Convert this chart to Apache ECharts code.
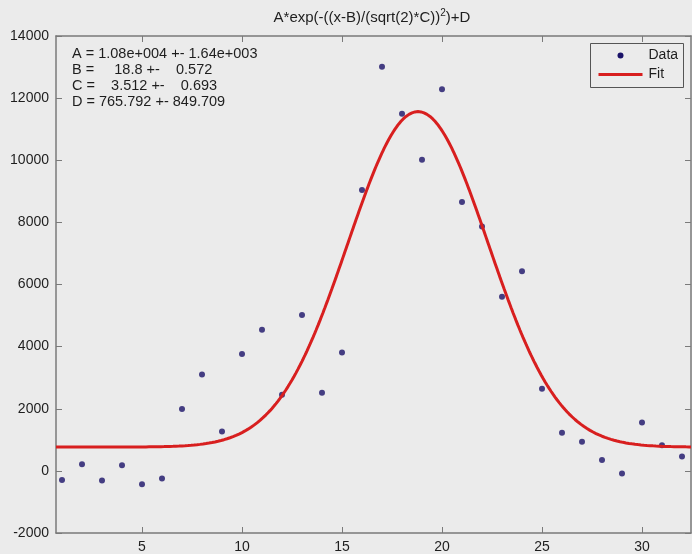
<!DOCTYPE html>
<html>
<head>
<meta charset="utf-8">
<script src="https://cdn.jsdelivr.net/npm/echarts@6/dist/echarts.min.js"></script>
<style>
  html, body { margin: 0; padding: 0; background: #ebebeb; }
  #chart { width: 692px; height: 554px; }
</style>
</head>
<body>
<div id="chart"></div>
<script>
// Measured samples
const xValues = [1, 2, 3, 4, 5, 6, 7, 8, 9, 10, 11, 12, 13, 14, 15, 16,
                 17, 18, 19, 20, 21, 22, 23, 24, 25, 26, 27, 28, 29, 30, 31, 32];
const yValues = [-290, 212, -311, 180, -430, -247, 1990, 3101, 1271, 3766, 4546, 2449,
                 5018, 2514, 3807, 9040, 13011, 11493, 10016, 12283, 8655, 7865, 5605, 6430,
                 2642, 1230, 941, 353, -87, 1560, 822, 459];

// Gaussian fit parameters A, B, C, D and their printed summary
const fitParams = [10800, 18.8, 3.512, 765.792];
const fitLines = [
  'A = 1.08e+004 +- 1.64e+003',
  'B =     18.8 +-    0.572',
  'C =    3.512 +-    0.693',
  'D = 765.792 +- 849.709'
];

// Axis ticks
const xTicks = [5, 10, 15, 20, 25, 30];
const yTicks = [-2000, 0, 2000, 4000, 6000, 8000, 10000, 12000, 14000];
const xRange = [0.7, 32.45];

// Fit curve evaluated from the fitted parameters: A*exp(-((x-B)/(sqrt(2)*C))^2)+D
function gauss(x) {
  const [A, B, C, D] = fitParams;
  const t = (x - B) / (Math.sqrt(2) * C);
  return A * Math.exp(-t * t) + D;
}
const fitCurve = [];
for (let i = 0; i <= 635; i++) {
  const x = xRange[0] + i * 0.05;
  if (x > xRange[1]) break;
  fitCurve.push([x, gauss(x)]);
}

const FONT = '"Liberation Sans", Arial, sans-serif';
const axisColor = '#7a7a7a';
const textColor = '#1e1e1e';
const dotColor = '#1a1268';
const fitColor = '#d81f1f';

const chart = echarts.init(document.getElementById('chart'), null, { renderer: 'canvas' });

const baseX = {
  type: 'value', min: xRange[0], max: xRange[1],
  axisLine: { show: true, onZero: false, lineStyle: { color: axisColor, width: 1.5 } },
  axisTick: { show: true, inside: true, length: 6, customValues: xTicks, lineStyle: { color: axisColor } },
  splitLine: { show: false }
};
const baseY = {
  type: 'value', min: yTicks[0], max: yTicks[yTicks.length - 1], interval: 2000,
  axisLine: { show: true, onZero: false, lineStyle: { color: axisColor, width: 1.5 } },
  axisTick: { show: true, inside: true, length: 6, lineStyle: { color: axisColor } },
  splitLine: { show: false }
};

chart.setOption({
  backgroundColor: '#ebebeb',
  animation: false,
  grid: { left: 56, top: 36, right: 1, bottom: 19, containLabel: false },
  xAxis: [
    Object.assign({}, baseX, {
      position: 'bottom',
      axisLabel: { show: true, customValues: xTicks, margin: 7, color: textColor, fontSize: 14, fontFamily: FONT }
    }),
    Object.assign({}, baseX, { position: 'top', axisLabel: { show: false } })
  ],
  yAxis: [
    Object.assign({}, baseY, {
      position: 'left',
      axisLabel: { show: true, margin: 7, color: textColor, fontSize: 14, fontFamily: FONT,
                   formatter: v => String(v) }
    }),
    Object.assign({}, baseY, { position: 'right', axisLabel: { show: false } })
  ],
  series: [
    {
      name: 'Data', type: 'scatter', xAxisIndex: 0, yAxisIndex: 0,
      data: xValues.map((x, i) => [x, yValues[i]]),
      symbol: 'circle', symbolSize: 6,
      itemStyle: { color: dotColor }, z: 2
    },
    {
      name: 'Fit', type: 'line', xAxisIndex: 0, yAxisIndex: 0,
      data: fitCurve, showSymbol: false, smooth: false,
      lineStyle: { color: fitColor, width: 3 }, z: 3
    }
  ],
  graphic: [
    {
      type: 'text', x: 372, y: 18,
      style: {
        text: '{a|A*exp(-((x-B)/(sqrt(2)*C))}{s|2}{a|)+D}',
        align: 'center', verticalAlign: 'middle',
        rich: {
          a: { fontSize: 15, fontFamily: FONT, fill: textColor },
          s: { fontSize: 10, fontFamily: FONT, fill: textColor, padding: [0, 0, 9, 0] }
        }
      }
    },
    {
      type: 'text', x: 72, y: 46,
      style: {
        text: fitLines.join('\n'),
        fontSize: 14.5, fontFamily: FONT, fill: textColor, lineHeight: 16,
        align: 'left', verticalAlign: 'top'
      }
    },
    {
      type: 'group', left: 590, top: 43,
      children: [
        { type: 'rect', shape: { x: 0, y: 0, width: 93, height: 44 },
          style: { fill: '#ebebeb', stroke: '#555', lineWidth: 1 } },
        { type: 'circle', shape: { cx: 30, cy: 12, r: 3 }, style: { fill: dotColor } },
        { type: 'line', shape: { x1: 8, y1: 31, x2: 52, y2: 31 },
          style: { stroke: fitColor, lineWidth: 3 } },
        { type: 'text', x: 58, y: 12,
          style: { text: 'Data', fontSize: 14, fontFamily: FONT, fill: textColor, verticalAlign: 'middle' } },
        { type: 'text', x: 58, y: 31,
          style: { text: 'Fit', fontSize: 14, fontFamily: FONT, fill: textColor, verticalAlign: 'middle' } }
      ]
    }
  ]
});
</script>
</body>
</html>
